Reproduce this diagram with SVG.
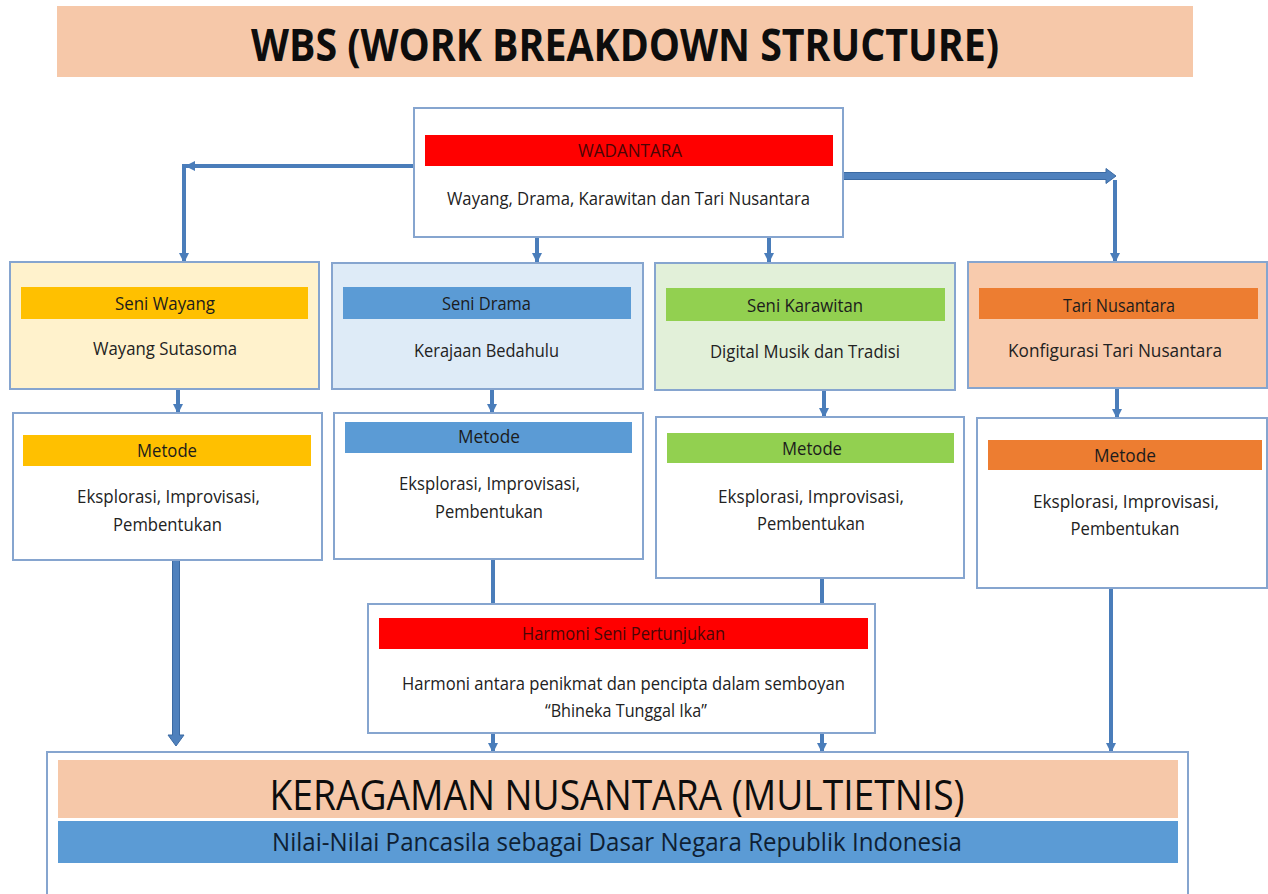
<svg xmlns="http://www.w3.org/2000/svg" width="1268" height="894" viewBox="0 0 1268 894">
<defs>
<style>
.box{stroke:#86A5CF;stroke-width:2}
.t{font-family:"Open Sans","Noto Sans","Liberation Sans",sans-serif;font-size:18px;fill:#222222;text-anchor:middle}
.bt{font-family:"Open Sans","Noto Sans","Liberation Sans",sans-serif;font-size:18px;fill:#1c1c1c;text-anchor:middle}
.rt{font-family:"Open Sans","Noto Sans","Liberation Sans",sans-serif;font-size:18px;fill:#4a0606;text-anchor:middle}
.c{stroke:#4A7DBA;stroke-width:4;fill:none}
</style>
<marker id="ah" viewBox="0 0 10 10" refX="9" refY="5" markerWidth="10" markerHeight="10" markerUnits="userSpaceOnUse" orient="auto">
<path d="M0,0 L10,5 L0,10 z" fill="#4A7DBA"/>
</marker>
</defs>
<rect width="1268" height="894" fill="#FFFFFF"/>

<g id="title">
<rect x="57" y="6" width="1136" height="71" fill="#F6C8A9"/>
<text x="625" y="61" font-family="'Open Sans','Noto Sans','Liberation Sans',sans-serif" font-weight="bold" font-size="44" fill="#0d0d0d" text-anchor="middle" textLength="748" lengthAdjust="spacingAndGlyphs">WBS (WORK BREAKDOWN STRUCTURE)</text>
</g>

<g id="connectors">
<line class="c" x1="414" y1="166" x2="186" y2="166" marker-end="url(#ah)"/>
<line class="c" x1="184" y1="164" x2="184" y2="262" marker-end="url(#ah)"/>
<path d="M843,172.5 L1106,172.5 L1106,168.5 L1116,176 L1106,183.5 L1106,179.5 L843,179.5 z" fill="#4F81BD" stroke="#3B6AA3" stroke-width="1"/>
<line class="c" x1="1115" y1="180" x2="1115" y2="262" marker-end="url(#ah)"/>
<line class="c" x1="537" y1="237" x2="537" y2="262" marker-end="url(#ah)"/>
<line class="c" x1="769" y1="237" x2="769" y2="262" marker-end="url(#ah)"/>
<line class="c" x1="178" y1="389" x2="178" y2="413" marker-end="url(#ah)"/>
<line class="c" x1="492" y1="389" x2="492" y2="413" marker-end="url(#ah)"/>
<line class="c" x1="824" y1="390" x2="824" y2="417" marker-end="url(#ah)"/>
<line class="c" x1="1117" y1="388" x2="1117" y2="418" marker-end="url(#ah)"/>
<line class="c" x1="493" y1="559" x2="493" y2="604"/>
<line class="c" x1="822" y1="578" x2="822" y2="604"/>
<line class="c" x1="493" y1="733" x2="493" y2="752" marker-end="url(#ah)"/>
<line class="c" x1="822" y1="733" x2="822" y2="752" marker-end="url(#ah)"/>
<path d="M172.5,560 L179.5,560 L179.5,735 L184,735 L176,746 L168,735 L172.5,735 z" fill="#4F81BD" stroke="#3B6AA3" stroke-width="1"/>
<line class="c" x1="1111" y1="588" x2="1111" y2="752" marker-end="url(#ah)"/>
</g>

<g id="wadantara">
<rect class="box" x="414" y="108" width="429" height="129" fill="#FFFFFF"/>
<rect x="425" y="135" width="408" height="31" fill="#FF0000"/>
<text class="rt" x="630" y="157" textLength="104" lengthAdjust="spacingAndGlyphs">WADANTARA</text>
<text class="t" x="628.5" y="205" textLength="363" lengthAdjust="spacingAndGlyphs">Wayang, Drama, Karawitan dan Tari Nusantara</text>
</g>

<g id="seni-wayang">
<rect class="box" x="10" y="262" width="309" height="127" fill="#FFF2CC"/>
<rect x="21" y="287" width="287" height="32" fill="#FFC000"/>
<text class="bt" x="165" y="310" textLength="100" lengthAdjust="spacingAndGlyphs">Seni Wayang</text>
<text class="t" x="165" y="355" textLength="144" lengthAdjust="spacingAndGlyphs">Wayang Sutasoma</text>
</g>

<g id="seni-drama">
<rect class="box" x="332" y="263" width="311" height="126" fill="#DEEBF7"/>
<rect x="343" y="287" width="288" height="32" fill="#5B9BD5"/>
<text class="bt" x="486.5" y="310" textLength="89" lengthAdjust="spacingAndGlyphs">Seni Drama</text>
<text class="t" x="486.5" y="357" textLength="145" lengthAdjust="spacingAndGlyphs">Kerajaan Bedahulu</text>
</g>

<g id="seni-karawitan">
<rect class="box" x="655" y="263" width="300" height="127" fill="#E2F0D9"/>
<rect x="666" y="288" width="279" height="33" fill="#92D050"/>
<text class="bt" x="805" y="312" textLength="116" lengthAdjust="spacingAndGlyphs">Seni Karawitan</text>
<text class="t" x="805" y="358" textLength="190" lengthAdjust="spacingAndGlyphs">Digital Musik dan Tradisi</text>
</g>

<g id="tari-nusantara">
<rect class="box" x="968" y="262" width="299" height="126" fill="#F8CBAD"/>
<rect x="979" y="288" width="279" height="31" fill="#ED7D31"/>
<text class="bt" x="1119" y="312" textLength="112" lengthAdjust="spacingAndGlyphs">Tari Nusantara</text>
<text class="t" x="1115" y="357" textLength="214" lengthAdjust="spacingAndGlyphs">Konfigurasi Tari Nusantara</text>
</g>

<g id="metode-wayang">
<rect class="box" x="13" y="413" width="309" height="147" fill="#FFFFFF"/>
<rect x="23" y="435" width="288" height="31" fill="#FFC000"/>
<text class="bt" x="167" y="457" textLength="60" lengthAdjust="spacingAndGlyphs">Metode</text>
<text class="t" x="168.5" y="503" textLength="183" lengthAdjust="spacingAndGlyphs">Eksplorasi, Improvisasi,</text>
<text class="t" x="167.5" y="531" textLength="109" lengthAdjust="spacingAndGlyphs">Pembentukan</text>
</g>

<g id="metode-drama">
<rect class="box" x="334" y="413" width="309" height="146" fill="#FFFFFF"/>
<rect x="345" y="422" width="287" height="31" fill="#5B9BD5"/>
<text class="bt" x="489" y="443" textLength="62" lengthAdjust="spacingAndGlyphs">Metode</text>
<text class="t" x="489.5" y="490" textLength="181" lengthAdjust="spacingAndGlyphs">Eksplorasi, Improvisasi,</text>
<text class="t" x="489" y="518" textLength="108" lengthAdjust="spacingAndGlyphs">Pembentukan</text>
</g>

<g id="metode-karawitan">
<rect class="box" x="656" y="417" width="308" height="161" fill="#FFFFFF"/>
<rect x="667" y="433" width="287" height="30" fill="#92D050"/>
<text class="bt" x="812" y="455" textLength="60" lengthAdjust="spacingAndGlyphs">Metode</text>
<text class="t" x="811" y="503" textLength="186" lengthAdjust="spacingAndGlyphs">Eksplorasi, Improvisasi,</text>
<text class="t" x="811" y="530" textLength="108" lengthAdjust="spacingAndGlyphs">Pembentukan</text>
</g>

<g id="metode-tari">
<rect class="box" x="977" y="418" width="290" height="170" fill="#FFFFFF"/>
<rect x="988" y="440" width="274" height="30" fill="#ED7D31"/>
<text class="bt" x="1125" y="462" textLength="62" lengthAdjust="spacingAndGlyphs">Metode</text>
<text class="t" x="1126" y="508" textLength="186" lengthAdjust="spacingAndGlyphs">Eksplorasi, Improvisasi,</text>
<text class="t" x="1125" y="535" textLength="109" lengthAdjust="spacingAndGlyphs">Pembentukan</text>
</g>

<g id="harmoni">
<rect class="box" x="368" y="604" width="507" height="129" fill="#FFFFFF"/>
<rect x="379" y="618" width="489" height="31" fill="#FF0000"/>
<text class="rt" x="623.5" y="640" textLength="203" lengthAdjust="spacingAndGlyphs">Harmoni Seni Pertunjukan</text>
<text class="t" x="623.5" y="690" textLength="443" lengthAdjust="spacingAndGlyphs">Harmoni antara penikmat dan pencipta dalam semboyan</text>
<text class="t" x="626" y="717" textLength="162" lengthAdjust="spacingAndGlyphs">“Bhineka Tunggal Ika”</text>
</g>

<g id="keragaman">
<rect class="box" x="47" y="752" width="1141" height="150" fill="#FFFFFF"/>
<rect x="58" y="760" width="1120" height="58" fill="#F6C8A9"/>
<rect x="58" y="821" width="1120" height="42" fill="#5B9BD5"/>
<text x="617" y="810" font-family="'Open Sans','Noto Sans','Liberation Sans',sans-serif" font-size="42" fill="#0d0d0d" text-anchor="middle" textLength="695" lengthAdjust="spacingAndGlyphs">KERAGAMAN NUSANTARA (MULTIETNIS)</text>
<text x="617" y="851" font-family="'Open Sans','Noto Sans','Liberation Sans',sans-serif" font-size="26" fill="#0f1f33" text-anchor="middle" textLength="690" lengthAdjust="spacingAndGlyphs">Nilai-Nilai Pancasila sebagai Dasar Negara Republik Indonesia</text>
</g>
</svg>
